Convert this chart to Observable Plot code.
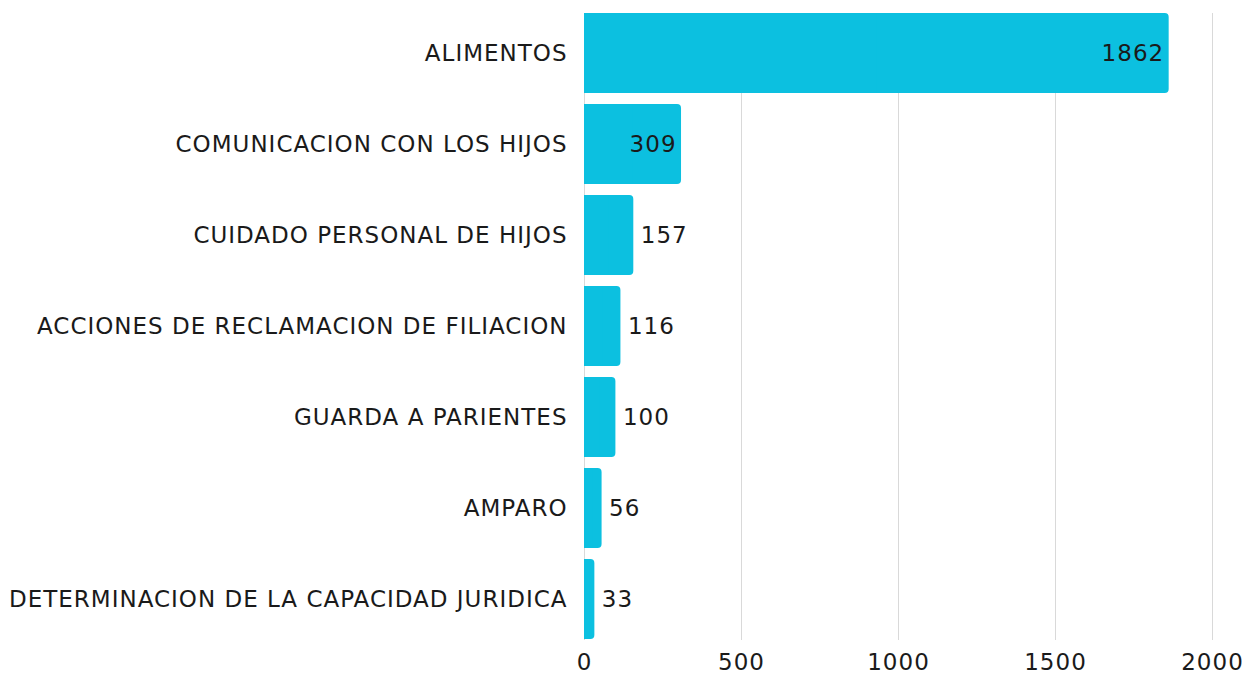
<!DOCTYPE html>
<html>
<head>
<meta charset="utf-8">
<script src="https://cdn.jsdelivr.net/npm/d3@7"></script>
<script src="https://cdn.jsdelivr.net/npm/@observablehq/plot@0.6"></script>
<style>
  html, body { margin: 0; padding: 0; background: #fff; }
  svg { display: block; }
  svg text { letter-spacing: 1px; }
</style>
</head>
<body>
<div id="chart"></div>
<script>
const categories = [
  "ALIMENTOS",
  "COMUNICACION CON LOS HIJOS",
  "CUIDADO PERSONAL DE HIJOS",
  "ACCIONES DE RECLAMACION DE FILIACION",
  "GUARDA A PARIENTES",
  "AMPARO",
  "DETERMINACION DE LA CAPACIDAD JURIDICA"
];
const values = [1862, 309, 157, 116, 100, 56, 33];
const xTicks = [0, 500, 1000, 1500, 2000];

const data = categories.map((c, i) => ({category: c, value: values[i]}));
const barColor = "#0cc0e0";
const inside = d => d.value > 200;
const FS = 23;

const chart = Plot.plot({
  width: 1247,
  height: 674,
  marginLeft: 584,
  marginRight: 35,
  marginTop: 13,
  marginBottom: 34,
  style: {fontFamily: "'DejaVu Sans', sans-serif", fontSize: FS + "px", color: "#1a1a1a", background: "#fff"},
  x: {domain: [0, 2000], ticks: xTicks, label: null, tickFormat: d3.format("d")},
  y: {domain: categories, label: null, paddingInner: 0.117, paddingOuter: 0},
  marks: [
    Plot.gridX(xTicks, {stroke: "#d9d9d9", strokeOpacity: 1, strokeWidth: 1}),
    Plot.barX(data, {y: "category", x: "value", fill: barColor, rx: 4}),
    Plot.barX(data, {y: "category", x1: 0, x2: d => d.value / 2, fill: barColor}),
    Plot.text(data.filter(inside), {y: "category", x: "value", text: d => String(d.value), textAnchor: "end", dx: -5, fill: "#1a1a1a", fontSize: FS}),
    Plot.text(data.filter(d => !inside(d)), {y: "category", x: "value", text: d => String(d.value), textAnchor: "start", dx: 7, fill: "#1a1a1a", fontSize: FS}),
    Plot.axisY({tickSize: 0, tickPadding: 17, fontSize: FS, fill: "#1a1a1a", label: null}),
    Plot.axisX({ticks: xTicks, tickSize: 0, tickPadding: 13, fontSize: FS, fill: "#1a1a1a", label: null, tickFormat: d3.format("d")})
  ]
});
document.getElementById("chart").appendChild(chart);
</script>
</body>
</html>
